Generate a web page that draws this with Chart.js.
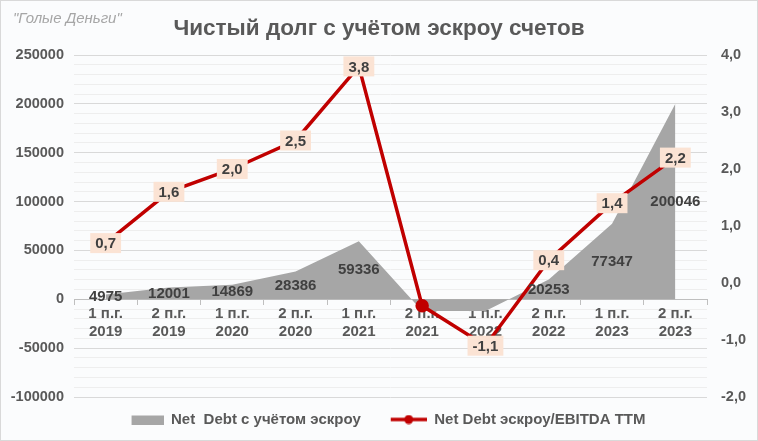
<!DOCTYPE html>
<html>
<head>
<meta charset="utf-8">
<script src="https://cdn.jsdelivr.net/npm/chart.js@4.4.1/dist/chart.umd.min.js"></script>
<style>
  html, body { margin: 0; padding: 0; background: #fbfcfd; }
  #wrap { position: relative; width: 756px; height: 439px; border: 1px solid #d9d9d9; background: #fbfcfd; }
  #brand { position: absolute; left: 12px; top: 8px; font: italic 15px "Liberation Sans", Arial, sans-serif; color: #a6a6a6; }
</style>
</head>
<body>
<div id="wrap">
  <canvas id="debt" width="756" height="439"></canvas>
  <div id="brand">"Голые Деньги"</div>
</div>
<script>
var categories = ['1 п.г. 2019', '2 п.г. 2019', '1 п.г. 2020', '2 п.г. 2020', '1 п.г. 2021',
                  '2 п.г. 2021', '1 п.г. 2022', '2 п.г. 2022', '1 п.г. 2023', '2 п.г. 2023'];
var netDebt = [4975, 12001, 14869, 28386, 59336, -12000, -12000, 20253, 77347, 200046];
var netDebtEbitda = [0.7, 1.6, 2.0, 2.5, 3.8, -0.4, -1.1, 0.4, 1.4, 2.2];
var hiddenLabels = [5];

var fontFamily = '"Liberation Sans", Arial, sans-serif';
var textColor = '#595959';

function commaNum(v) {
    return v.toFixed(1).replace('.', ',');
}

// legend symbols, drawn right-aligned in a 51px box
function makeSymbol(type) {
    var c = document.createElement('canvas');
    var ctx = c.getContext('2d');
    c.width = 51; c.height = 10;
    if (type === 'area') {
        ctx.fillStyle = '#a6a6a6';
        ctx.fillRect(19, 1, 32, 9);
    } else {
        ctx.strokeStyle = '#c00000';
        ctx.lineWidth = 3.5;
        ctx.beginPath(); ctx.moveTo(15, 5); ctx.lineTo(51, 5); ctx.stroke();
        ctx.fillStyle = '#c00000';
        ctx.beginPath(); ctx.arc(33, 5, 4.5, 0, Math.PI * 2); ctx.fill();
    }
    return c;
}
var legendSymbols = [makeSymbol('area'), makeSymbol('line')];

var valueLabels = {
    id: 'valueLabels',
    afterDatasetsDraw: function(chart) {
        var ctx = chart.ctx;
        var x = chart.scales.x, y = chart.scales.y, y1 = chart.scales.y1;
        ctx.save();
        ctx.font = 'bold 15px ' + fontFamily;
        ctx.textAlign = 'center';
        ctx.textBaseline = 'middle';
        // area labels in the middle of the area
        for (var i = 0; i < netDebt.length; i++) {
            if (netDebt[i] < 0) continue;
            ctx.fillStyle = '#404040';
            ctx.fillText(String(netDebt[i]), x.getPixelForValue(i), y.getPixelForValue(netDebt[i] / 2));
        }
        // ratio labels with boxes
        for (var j = 0; j < netDebtEbitda.length; j++) {
            if (hiddenLabels.indexOf(j) >= 0) continue;
            var t = commaNum(netDebtEbitda[j]);
            var px = x.getPixelForValue(j), py = y1.getPixelForValue(netDebtEbitda[j]);
            var w = ctx.measureText(t).width + 10;
            ctx.fillStyle = '#fbe3d4';
            ctx.fillRect(px - w / 2, py - 10, w, 20);
            ctx.fillStyle = '#404040';
            ctx.fillText(t, px, py + 1);
        }
        ctx.restore();
    }
};

var context = document.getElementById('debt').getContext('2d');
var chart = new Chart(context, {
    type: 'line',
    data: {
        labels: categories,
        datasets: [{
            label: 'Net  Debt с учётом эскроу',
            data: netDebt,
            yAxisID: 'y',
            fill: 'origin',
            backgroundColor: '#a6a6a6',
            borderWidth: 0,
            pointRadius: 0,
            tension: 0,
            order: 2
        }, {
            label: 'Net Debt эскроу/EBITDA TTM',
            data: netDebtEbitda,
            yAxisID: 'y1',
            fill: false,
            borderColor: '#c00000',
            backgroundColor: '#c00000',
            borderWidth: 3.5,
            pointStyle: 'circle',
            pointRadius: netDebtEbitda.map(function(v, i) { return hiddenLabels.indexOf(i) >= 0 ? 5 : 0; }),
            tension: 0,
            order: 1
        }]
    },
    options: {
        responsive: false,
        animation: false,
        layout: { padding: { left: 0, right: 0, top: 0, bottom: 3 } },
        plugins: {
            title: {
                display: true,
                text: 'Чистый долг с учётом эскроу счетов',
                color: textColor,
                font: { family: fontFamily, size: 22.5, weight: 'bold' },
                padding: { top: 14, bottom: 13 }
            },
            legend: {
                position: 'bottom',
                labels: {
                    usePointStyle: true,
                    pointStyleWidth: 51,
                    color: textColor,
                    font: { family: fontFamily, size: 15, weight: 'bold' },
                    padding: 15,
                    generateLabels: function(chart) {
                        var items = Chart.defaults.plugins.legend.labels.generateLabels(chart);
                        items.sort(function(a, b) { return a.datasetIndex - b.datasetIndex; });
                        items.forEach(function(it) { it.pointStyle = legendSymbols[it.datasetIndex]; });
                        return items;
                    }
                }
            },
            tooltip: { enabled: false }
        },
        scales: {
            x: {
                position: { y: 0 },
                offset: true,
                border: { color: '#bfbfbf' },
                grid: { offset: true, drawOnChartArea: false, drawTicks: true, tickLength: 5, color: '#bfbfbf' },
                ticks: {
                    color: textColor,
                    font: { family: fontFamily, size: 15, weight: 'bold' },
                    padding: 1,
                    maxRotation: 0,
                    autoSkip: false,
                    callback: function(v, i) {
                        var s = categories[i];
                        var k = s.lastIndexOf(' ');
                        return [s.slice(0, k), s.slice(k + 1)];
                    }
                }
            },
            y: {
                position: 'left',
                min: -100000,
                max: 250000,
                border: { display: false },
                grid: {
                    drawTicks: false,
                    color: function(c) { return c.tick.value % 50000 === 0 ? '#d9d9d9' : '#eeeeee'; }
                },
                ticks: {
                    stepSize: 10000,
                    autoSkip: false,
                    padding: 10,
                    color: textColor,
                    font: { family: fontFamily, size: 14.5, weight: 'bold' },
                    callback: function(v) { return v % 50000 === 0 ? String(v) : ''; }
                },
                afterFit: function(s) { s.width = 73; }
            },
            y1: {
                position: 'right',
                min: -2,
                max: 4,
                border: { display: false },
                grid: { display: false, drawTicks: false },
                ticks: {
                    stepSize: 1,
                    padding: 14,
                    color: textColor,
                    font: { family: fontFamily, size: 14.5, weight: 'bold' },
                    callback: function(v) { return commaNum(v); }
                },
                afterFit: function(s) { s.width = 50; }
            }
        }
    },
    plugins: [valueLabels]
});
</script>
</body>
</html>
